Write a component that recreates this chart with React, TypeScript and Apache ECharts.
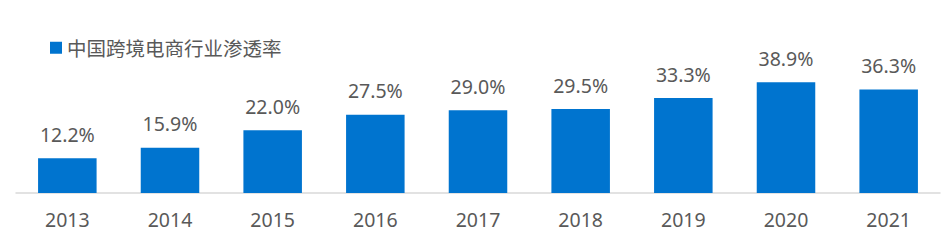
import React, { useEffect, useRef } from "react";
import * as echarts from "echarts";

const categories = ["2013", "2014", "2015", "2016", "2017", "2018", "2019", "2020", "2021"];
const values = [12.2, 15.9, 22.0, 27.5, 29.0, 29.5, 33.3, 38.9, 36.3];
const seriesName = "中国跨境电商行业渗透率";

const FONT = "'Noto Sans', 'Noto Sans CJK SC', sans-serif";

export default function App() {
  const ref = useRef<HTMLDivElement>(null);
  useEffect(() => {
    const chart = echarts.init(ref.current!, null, { renderer: "svg" });
    chart.setOption({
      animation: false,
      textStyle: { fontFamily: FONT },
      legend: {
        left: 45,
        top: 33,
        itemWidth: 12,
        itemHeight: 12,
        itemGap: 6,
        icon: "rect",
        textStyle: { fontSize: 19.5, color: "#595959", fontFamily: "'Noto Sans CJK SC', sans-serif" },
        data: [seriesName],
      },
      grid: { left: 16, right: 8, top: 79, bottom: 55, containLabel: false },
      xAxis: {
        type: "category",
        data: categories,
        axisLine: { lineStyle: { color: "#d9d9d9", width: 1.5 } },
        axisTick: { show: false },
        axisLabel: { fontSize: 19.5, color: "#595959", margin: 17, fontFamily: FONT },
      },
      yAxis: {
        type: "value",
        min: 0,
        max: 40,
        show: false,
        splitLine: { show: false },
      },
      series: [
        {
          name: seriesName,
          type: "bar",
          data: values,
          barWidth: "57%",
          itemStyle: { color: "#0074cf" },
          label: {
            show: true,
            position: "top",
            distance: 14,
            fontSize: 19.5,
            color: "#595959",
            fontFamily: FONT,
            formatter: (p: any) => p.value.toFixed(1) + "%",
          },
        },
      ],
    });
    return () => chart.dispose();
  }, []);
  return (
    <div
      ref={ref}
      style={{ position: "fixed", left: 0, top: 0, width: 948, height: 248, background: "#fff" }}
    />
  );
}
